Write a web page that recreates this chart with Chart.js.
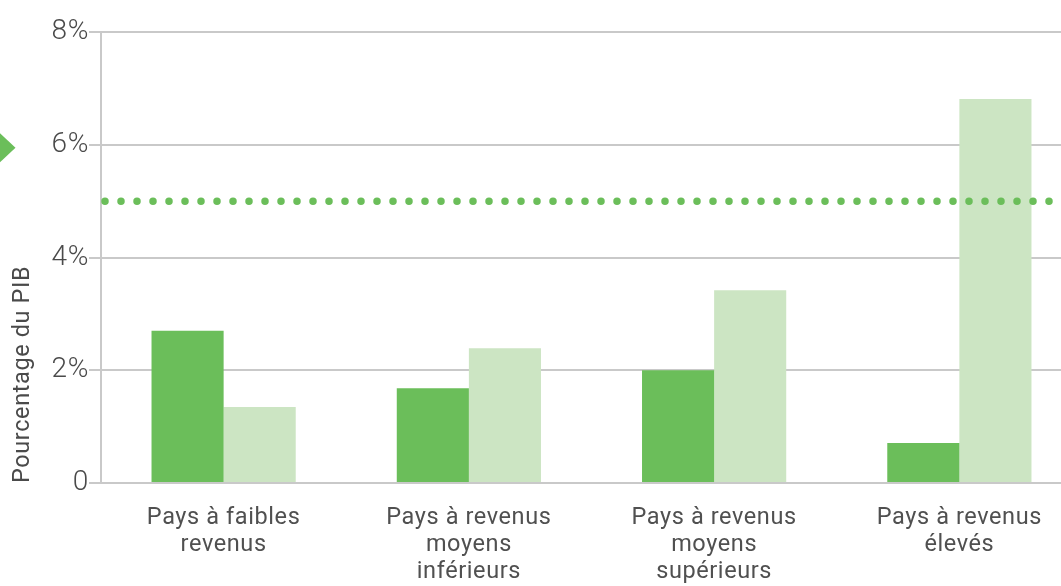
<!DOCTYPE html>
<html>
<head>
<meta charset="utf-8">
<script src="https://cdn.jsdelivr.net/npm/chart.js@4"></script>
<style>
  html, body { margin: 0; padding: 0; background: #ffffff; overflow: hidden; }
  #wrap { width: 1085px; height: 586px; }
</style>
</head>
<body>
<div id="wrap"><canvas id="c" width="1085" height="586"></canvas></div>
<script>
const categories = [
  ['Pays à faibles', 'revenus'],
  ['Pays à revenus', 'moyens', 'inférieurs'],
  ['Pays à revenus', 'moyens', 'supérieurs'],
  ['Pays à revenus', 'élevés']
];
const seriesDark = [2.70, 1.68, 2.00, 0.71];
const seriesLight = [1.35, 2.39, 3.42, 6.81];
const thresholdValue = 5;
const markerValue = 6;
const yTickLabels = { 0: '0', 2: '2%', 4: '4%', 6: '6%', 8: '8%' };
const yTitle = 'Pourcentage du PIB';

const green = '#6bbe5a';
const lightGreen = '#cce5c3';
const textColor = '#4a4a4a';
const gridColor = '#c9c9c9';

const spacing = {
  id: 'spacing',
  beforeUpdate(chart) { chart.ctx.letterSpacing = '0.6px'; },
  beforeDraw(chart) { chart.ctx.letterSpacing = '0.6px'; }
};

const overlay = {
  id: 'overlay',
  afterDatasetsDraw(chart) {
    const { ctx, chartArea, scales } = chart;
    const y = scales.y.getPixelForValue(thresholdValue);
    ctx.save();
    ctx.strokeStyle = green;
    ctx.lineWidth = 7.5;
    ctx.lineCap = 'round';
    ctx.setLineDash([0, 16]);
    ctx.beginPath();
    ctx.moveTo(chartArea.left + 4, y);
    ctx.lineTo(chartArea.right + 20, y);
    ctx.stroke();
    ctx.restore();

    const my = scales.y.getPixelForValue(markerValue) + 3;
    ctx.save();
    ctx.fillStyle = green;
    ctx.beginPath();
    ctx.moveTo(-10, my - 24);
    ctx.lineTo(15.5, my);
    ctx.lineTo(-10, my + 24);
    ctx.closePath();
    ctx.fill();
    ctx.restore();
  }
};

new Chart(document.getElementById('c'), {
  type: 'bar',
  data: {
    labels: categories,
    datasets: [
      { data: seriesDark, backgroundColor: green, borderWidth: 0 },
      { data: seriesLight, backgroundColor: lightGreen, borderWidth: 0 }
    ]
  },
  options: {
    responsive: false,
    devicePixelRatio: 1,
    animation: false,
    layout: { padding: { top: 32, right: 3, bottom: 0, left: 0 } },
    plugins: { legend: { display: false }, tooltip: { enabled: false } },
    datasets: { bar: { categoryPercentage: 0.588, barPercentage: 1 } },
    scales: {
      x: {
        grid: { display: false, drawTicks: false },
        border: { display: false },
        ticks: {
          color: '#505050',
          font: { family: 'Roboto', size: 23.5, lineHeight: 1.15 },
          padding: 22,
          maxRotation: 0,
          autoSkip: false
        },
        afterFit(scale) { scale.height = 103; }
      },
      y: {
        min: 0, max: 8,
        grid: { color: gridColor, lineWidth: 2, tickLength: 12, tickColor: gridColor },
        border: { display: true, color: gridColor, width: 2 },
        ticks: {
          stepSize: 2,
          color: textColor,
          font: { family: 'Roboto', size: 28, weight: 300 },
          padding: 0,
          callback: (v) => yTickLabels[v] !== undefined ? yTickLabels[v] : ''
        },
        title: {
          display: true,
          text: yTitle,
          align: 'start',
          color: textColor,
          font: { family: 'Roboto', size: 23.5 },
          padding: { top: 9, bottom: 0 }
        },
        afterFit(scale) { scale.width = 101; }
      }
    }
  },
  plugins: [spacing, overlay]
});
</script>
</body>
</html>
